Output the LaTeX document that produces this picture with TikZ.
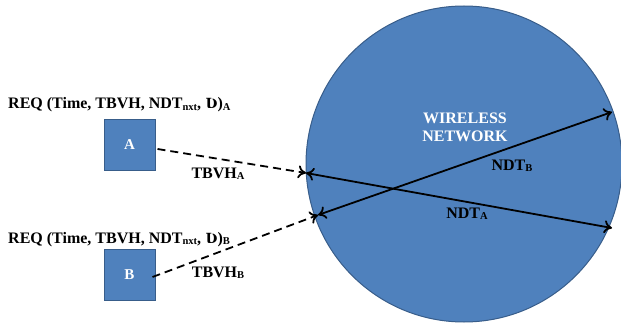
\documentclass[tikz,border=0pt]{standalone}
\usepackage{fontspec}
\setmainfont{Liberation Serif}
\newfontfamily\hookfont{DejaVu Serif}
\usepackage{tikz}
\usetikzlibrary{positioning,arrows.meta,calc}
\definecolor{netblue}{HTML}{4F81BD}
\definecolor{netedge}{HTML}{385D8A}
\newcommand{\lowtxt}[1]{\raisebox{-0.15ex}{\fontsize{10.5}{11}\selectfont #1}}
\newcommand{\hookU}{{\hookfont\fontsize{14}{15}\selectfont Ʋ}}
\tikzset{
nodebox/.style={
    draw=netedge, rectangle, fill=netblue, line width=1pt,
    minimum width=51pt, minimum height=51pt,
    inner sep=0pt, text=white, font=\bfseries\fontsize{15}{17}\selectfont
  }
}

\begin{document}
\begin{tikzpicture}[x=1pt, y=-1pt,
 lbl/.style={font=\bfseries\fontsize{16}{18}\selectfont, inner sep=0pt, text=black},
 dashline/.style={->, line width=1.8pt, dash pattern=on 8pt off 5pt},
 solidline/.style={<->, line width=1.8pt},
    >={To[length=8pt,width=13pt]}
  ]
\useasboundingbox (0,0) rectangle (621,326);

\node[draw=netedge, fill=netblue, circle, line width=1pt, minimum size=316pt] (net) at (464,164) {};
\node[align=center, text=white, font=\bfseries\fontsize{16}{18}\selectfont] (wn) at (465,127) {WIRELESS\\NETWORK};

\node[nodebox] (A) at (129.5,145) {A};
\node[nodebox] (B) at (129.5,275) {B};
\node[lbl, anchor=base west] (reqA) at (8,109) {REQ (Time, TBVH, NDT\lowtxt{nxt}, \hookU)\lowtxt{A}};
\node[lbl, anchor=base west] (reqB) at (8,243) {REQ (Time, TBVH, NDT\lowtxt{nxt}, \hookU)\lowtxt{B}};

\coordinate (inA) at (306,173);
\coordinate (inB) at (318,215);
\coordinate (outA) at (612,228);
\coordinate (outB) at (612,112);

\draw[dashline] ($(A.east)+(2,4)$) -- (inA);
\draw[dashline] ($(B.east)+(-3,2)$) -- (inB);
\draw[solidline] (inA) -- (outA);
\draw[solidline] (inB) -- (outB);

\node[lbl] (tA) at (218,174) {TBVH\lowtxt{A}};
\node[lbl] (tB) at (218,273) {TBVH\lowtxt{B}};
\node[lbl] (nB) at (512,166) {NDT\lowtxt{B}};
\node[lbl] (nA) at (467,214) {NDT\lowtxt{A}};
\end{tikzpicture}
\end{document}
